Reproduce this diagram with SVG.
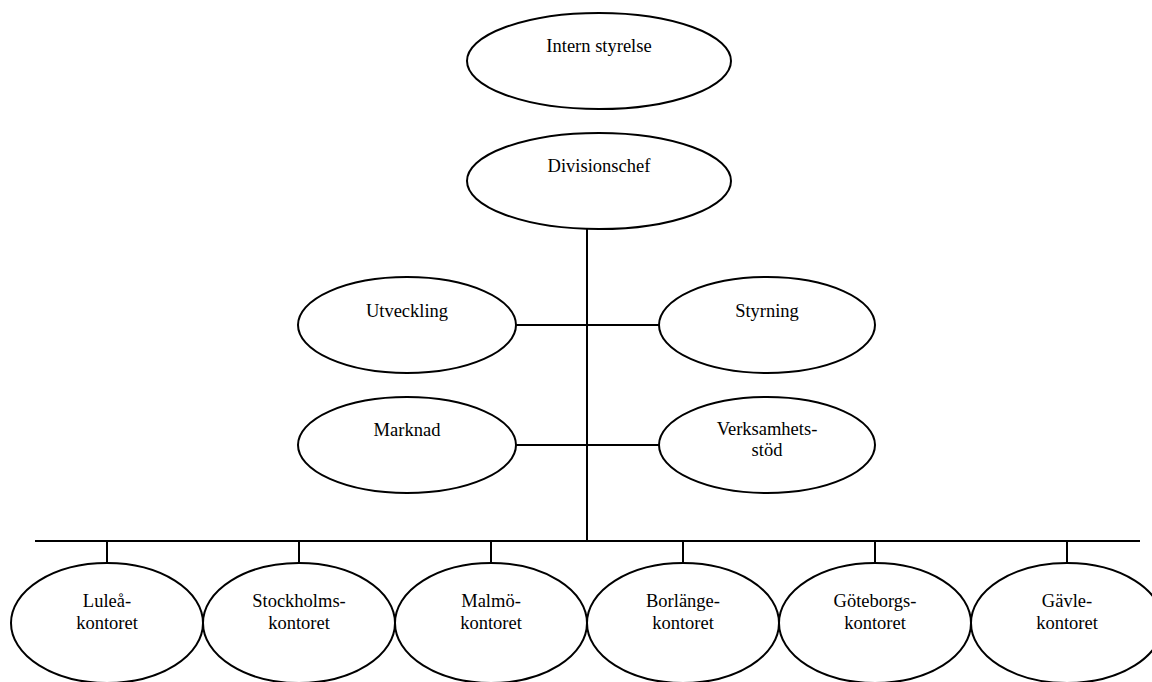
<svg xmlns="http://www.w3.org/2000/svg" width="1152" height="682" viewBox="0 0 1152 682">
<style>
.n ellipse{fill:#fff;stroke:#000;stroke-width:2}
.n text{font-family:"Liberation Serif","Times New Roman",serif;font-size:18.5px;fill:#000;text-anchor:middle}
#connectors line{stroke:#000;stroke-width:2}
</style>
<rect width="1152" height="682" fill="#fff"/>
<g id="connectors">
<line x1="587" y1="228" x2="587" y2="542"/>
<line x1="516" y1="325" x2="659" y2="325"/>
<line x1="516" y1="445" x2="659" y2="445"/>
<line x1="35" y1="541" x2="1140" y2="541"/>
<line x1="107" y1="541" x2="107" y2="564"/>
<line x1="299" y1="541" x2="299" y2="564"/>
<line x1="491" y1="541" x2="491" y2="564"/>
<line x1="683" y1="541" x2="683" y2="564"/>
<line x1="875" y1="541" x2="875" y2="564"/>
<line x1="1067" y1="541" x2="1067" y2="564"/>
</g>
<g id="intern" class="n"><ellipse cx="599" cy="61" rx="132" ry="48"/><text x="599" y="52">Intern styrelse</text></g>
<g id="divisionschef" class="n"><ellipse cx="599" cy="181" rx="132" ry="48"/><text x="599" y="172">Divisionschef</text></g>
<g id="utveckling" class="n"><ellipse cx="407" cy="325" rx="109" ry="48"/><text x="407" y="317">Utveckling</text></g>
<g id="styrning" class="n"><ellipse cx="767" cy="325" rx="108" ry="48"/><text x="767" y="317">Styrning</text></g>
<g id="marknad" class="n"><ellipse cx="407" cy="445" rx="109" ry="48"/><text x="407" y="436">Marknad</text></g>
<g id="verksamhetsstod" class="n"><ellipse cx="767" cy="445" rx="108" ry="48"/><text x="767" y="435">Verksamhets-</text><text x="767" y="456">stöd</text></g>
<g id="lulea" class="n"><ellipse cx="107" cy="623" rx="96" ry="60"/><text x="107" y="607">Luleå-</text><text x="107" y="629">kontoret</text></g>
<g id="stockholm" class="n"><ellipse cx="299" cy="623" rx="96" ry="60"/><text x="299" y="607">Stockholms-</text><text x="299" y="629">kontoret</text></g>
<g id="malmo" class="n"><ellipse cx="491" cy="623" rx="96" ry="60"/><text x="491" y="607">Malmö-</text><text x="491" y="629">kontoret</text></g>
<g id="borlange" class="n"><ellipse cx="683" cy="623" rx="96" ry="60"/><text x="683" y="607">Borlänge-</text><text x="683" y="629">kontoret</text></g>
<g id="goteborg" class="n"><ellipse cx="875" cy="623" rx="96" ry="60"/><text x="875" y="607">Göteborgs-</text><text x="875" y="629">kontoret</text></g>
<g id="gavle" class="n"><ellipse cx="1067" cy="623" rx="96" ry="60"/><text x="1067" y="607">Gävle-</text><text x="1067" y="629">kontoret</text></g>
</svg>
